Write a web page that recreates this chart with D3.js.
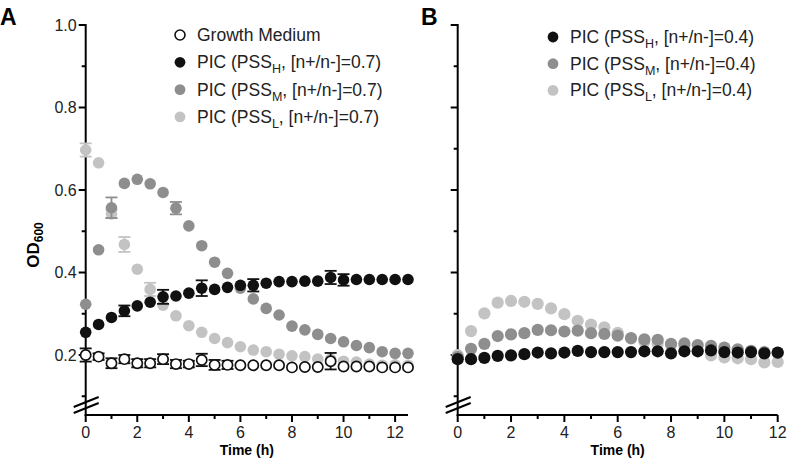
<!DOCTYPE html>
<html><head><meta charset="utf-8">
<script src="https://cdn.jsdelivr.net/npm/d3@7"></script>
<style>body{margin:0;background:#fff}svg{display:block;font-family:"Liberation Sans",Arial,sans-serif}</style>
</head><body><svg id="c" width="787" height="460"></svg>
<script>
// ---- data ----
const timeA = [0,0.5,1,1.5,2,2.5,3,3.5,4,4.5,5,5.5,6,6.5,7,7.5,8,8.5,9,9.5,10,10.5,11,11.5,12,12.5];
const gmA   = [0.200,0.196,0.180,0.190,0.180,0.180,0.190,0.178,0.178,0.188,0.176,0.176,0.175,0.175,0.175,0.175,0.170,0.171,0.171,0.185,0.172,0.172,0.172,0.170,0.170,0.170];
const gmErr = [0.016,0.008,0.012,0.010,0.010,0.010,0.012,0.010,0.008,0.015,0.012,0.010,0,0,0,0,0,0,0,0.020,0,0,0,0,0,0];
const hA    = [0.255,0.274,0.291,0.307,0.319,0.328,0.341,0.343,0.350,0.362,0.359,0.364,0.369,0.369,0.374,0.378,0.378,0.379,0.379,0.388,0.382,0.383,0.383,0.383,0.383,0.383];
const hErr  = [0,0,0,0.013,0,0,0.017,0,0,0.019,0,0,0,0.015,0,0,0,0,0,0.016,0.014,0,0,0,0,0];
const mA    = [0.323,0.455,0.557,0.616,0.626,0.615,0.594,0.556,0.513,0.465,0.425,0.398,0.362,0.336,0.313,0.297,0.270,0.261,0.250,0.240,0.232,0.223,0.218,0.208,0.204,0.204];
const mErr  = [0,0,0.025,0,0,0,0,0.015,0,0,0,0,0,0,0,0,0,0,0,0,0,0,0,0,0,0];
const lA    = [0.697,0.666,0.542,0.468,0.408,0.359,0.321,0.295,0.271,0.255,0.240,0.230,0.220,0.212,0.208,0.202,0.198,0.196,0.190,0.190,0.185,0.183,0.178,0.175,0.176,0.175];
const lErr  = [0.016,0,0.010,0.018,0,0.016,0,0,0,0,0,0,0,0,0,0,0,0,0,0,0,0,0,0,0,0];

const timeB = [0,0.5,1,1.5,2,2.5,3,3.5,4,4.5,5,5.5,6,6.5,7,7.5,8,8.5,9,9.5,10,10.5,11,11.5,12];
const hB    = [0.190,0.190,0.193,0.198,0.199,0.202,0.206,0.204,0.206,0.210,0.207,0.207,0.207,0.207,0.209,0.209,0.204,0.209,0.209,0.211,0.207,0.206,0.207,0.204,0.206];
const mB    = [0.195,0.215,0.227,0.246,0.250,0.253,0.261,0.260,0.257,0.259,0.253,0.251,0.247,0.241,0.238,0.237,0.227,0.228,0.224,0.222,0.218,0.214,0.210,0.207,0.205];
const lB    = [0.200,0.258,0.301,0.327,0.331,0.329,0.324,0.313,0.299,0.283,0.274,0.267,0.254,0.240,0.232,0.228,0.224,0.222,0.212,0.199,0.194,0.192,0.190,0.182,0.183];

const xTicksA = [0,2,4,6,8,10,12];
const xMinorA = [1,3,5,7,9,11];
const yTicks = [0.2,0.4,0.6,0.8,1.0];
const yTickLabels = ["0.2","0.4","0.6","0.8","1.0"];
const yMinor = [0.1,0.3,0.5,0.7,0.9];

const legendA = [
  {pre:"Growth Medium", sub:"", post:"", kind:"open"},
  {pre:"PIC (PSS", sub:"H", post:", [n+/n-]=0.7)", kind:"H"},
  {pre:"PIC (PSS", sub:"M", post:", [n+/n-]=0.7)", kind:"M"},
  {pre:"PIC (PSS", sub:"L", post:", [n+/n-]=0.7)", kind:"L"}
];
const legendB = [
  {pre:"PIC (PSS", sub:"H", post:", [n+/n-]=0.4)", kind:"H"},
  {pre:"PIC (PSS", sub:"M", post:", [n+/n-]=0.4)", kind:"M"},
  {pre:"PIC (PSS", sub:"L", post:", [n+/n-]=0.4)", kind:"L"}
];

const col = {H:"#111111", M:"#8e8e8e", L:"#c3c3c3", open:"#ffffff"};

const svg = d3.select("#c");
const y = d3.scaleLinear().domain([0.2,1.0]).range([355,25]);
const axisBottomPx = 415;

function panel(opt){
  const g = svg.append("g");
  const x = d3.scaleLinear().domain(opt.xdom).range(opt.xrange);
  const x0 = opt.xrange[0];
  g.append("line").attr("x1",x0).attr("x2",x0).attr("y1",y(1.0)-1).attr("y2",axisBottomPx+1)
    .attr("stroke","#000").attr("stroke-width",2);
  g.append("line").attr("x1",x0-1).attr("x2",opt.xrange[1]).attr("y1",axisBottomPx).attr("y2",axisBottomPx)
    .attr("stroke","#000").attr("stroke-width",2);
  g.selectAll(".yt").data(yTicks).join("line").attr("x1",x0-7).attr("x2",x0)
    .attr("y1",d=>y(d)).attr("y2",d=>y(d)).attr("stroke","#000").attr("stroke-width",2);
  g.selectAll(".ym").data(yMinor).join("line").attr("x1",x0-4).attr("x2",x0)
    .attr("y1",d=>y(d)).attr("y2",d=>y(d)).attr("stroke","#000").attr("stroke-width",2);
  if(opt.ylabels){
    g.selectAll(".yl").data(yTicks).join("text").attr("x",x0-9).attr("y",d=>y(d)+5.5)
      .attr("text-anchor","end").attr("font-size",16).attr("fill","#222").text((d,i)=>yTickLabels[i]);
  }
  g.selectAll(".xt").data(xTicksA).join("line").attr("x1",d=>x(d)).attr("x2",d=>x(d))
    .attr("y1",axisBottomPx).attr("y2",axisBottomPx+7).attr("stroke","#000").attr("stroke-width",2);
  g.selectAll(".xm").data(xMinorA).join("line").attr("x1",d=>x(d)).attr("x2",d=>x(d))
    .attr("y1",axisBottomPx).attr("y2",axisBottomPx+4).attr("stroke","#000").attr("stroke-width",2);
  g.selectAll(".xl").data(xTicksA).join("text").attr("x",d=>x(d)).attr("y",438)
    .attr("text-anchor","middle").attr("font-size",16).attr("fill","#222").text(d=>d);
  g.append("text").attr("x",(x(0)+opt.xrange[1])/2).attr("y",455).attr("text-anchor","middle")
    .attr("font-size",14).attr("font-weight","bold").text("Time (h)");
  [0,6].forEach(o=>{
    g.append("line").attr("x1",x0-12).attr("y1",407+o).attr("x2",x0+13).attr("y2",397+o)
      .attr("stroke","#000").attr("stroke-width",2);
  });
  g.append("text").attr("x",opt.letterX).attr("y",25).attr("font-size",23).attr("font-weight","bold").text(opt.letter);
  opt.series.forEach(s=>{
    const pts = s.t.map((t,i)=>({t, v:s.v[i], e:s.e?s.e[i]:0}));
    const eb = pts.filter(p=>p.e>0);
    const sc = s.kind==="open" ? "#111" : col[s.kind];
    g.selectAll(null).data(eb).join("line").attr("x1",p=>x(p.t)).attr("x2",p=>x(p.t))
      .attr("y1",p=>y(p.v+p.e)).attr("y2",p=>y(p.v-p.e)).attr("stroke",sc).attr("stroke-width",1.8);
    [1,-1].forEach(sg=>{
      g.selectAll(null).data(eb).join("line").attr("x1",p=>x(p.t)-6).attr("x2",p=>x(p.t)+6)
        .attr("y1",p=>y(p.v+sg*p.e)).attr("y2",p=>y(p.v+sg*p.e)).attr("stroke",sc).attr("stroke-width",1.8);
    });
    g.selectAll(null).data(pts).join("circle").attr("cx",p=>x(p.t)).attr("cy",p=>y(p.v))
      .attr("r", s.kind==="open" ? 5.1 : opt.r)
      .attr("fill", col[s.kind]).attr("stroke", s.kind==="open" ? "#111" : "none")
      .attr("stroke-width", 1.7);
  });
  opt.legend.forEach((d,i)=>{
    const ly = opt.legY + i*opt.legDy;
    g.append("circle").attr("cx",opt.legX).attr("cy",ly).attr("r", d.kind==="open"?5:5.4)
      .attr("fill",col[d.kind]).attr("stroke", d.kind==="open"?"#111":"none").attr("stroke-width",1.6);
    const t = g.append("text").attr("x",opt.legX+17).attr("y",ly+6).attr("font-size",17.5).attr("fill","#222");
    t.append("tspan").text(d.pre);
    if(d.sub){
      t.append("tspan").attr("font-size",12.5).attr("dy",5).text(d.sub);
      t.append("tspan").attr("dy",-5).text(d.post);
    }
  });
}

panel({xdom:[0,12.5], xrange:[85.7,408], ylabels:true, letter:"A", letterX:0, r:5.8,
  series:[
    {t:timeA, v:lA, e:lErr, kind:"L"},
    {t:timeA, v:mA, e:mErr, kind:"M"},
    {t:timeA, v:hA, e:hErr, kind:"H"},
    {t:timeA, v:gmA, e:gmErr, kind:"open"}
  ], legend:legendA, legX:180, legY:35, legDy:27.3});

panel({xdom:[0,12], xrange:[457.7,777.7], ylabels:false, letter:"B", letterX:421, r:6.1,
  series:[
    {t:timeB, v:lB, kind:"L"},
    {t:timeB, v:mB, kind:"M"},
    {t:timeB, v:hB, kind:"H"}
  ], legend:legendB, legX:553, legY:37, legDy:26.7});

const yt = svg.append("text").attr("transform","translate(39,245) rotate(-90)").attr("text-anchor","middle")
  .attr("font-size",17).attr("font-weight","bold");
yt.append("tspan").text("OD");
yt.append("tspan").attr("font-size",12).attr("dy",4).text("600");
</script></body></html>
